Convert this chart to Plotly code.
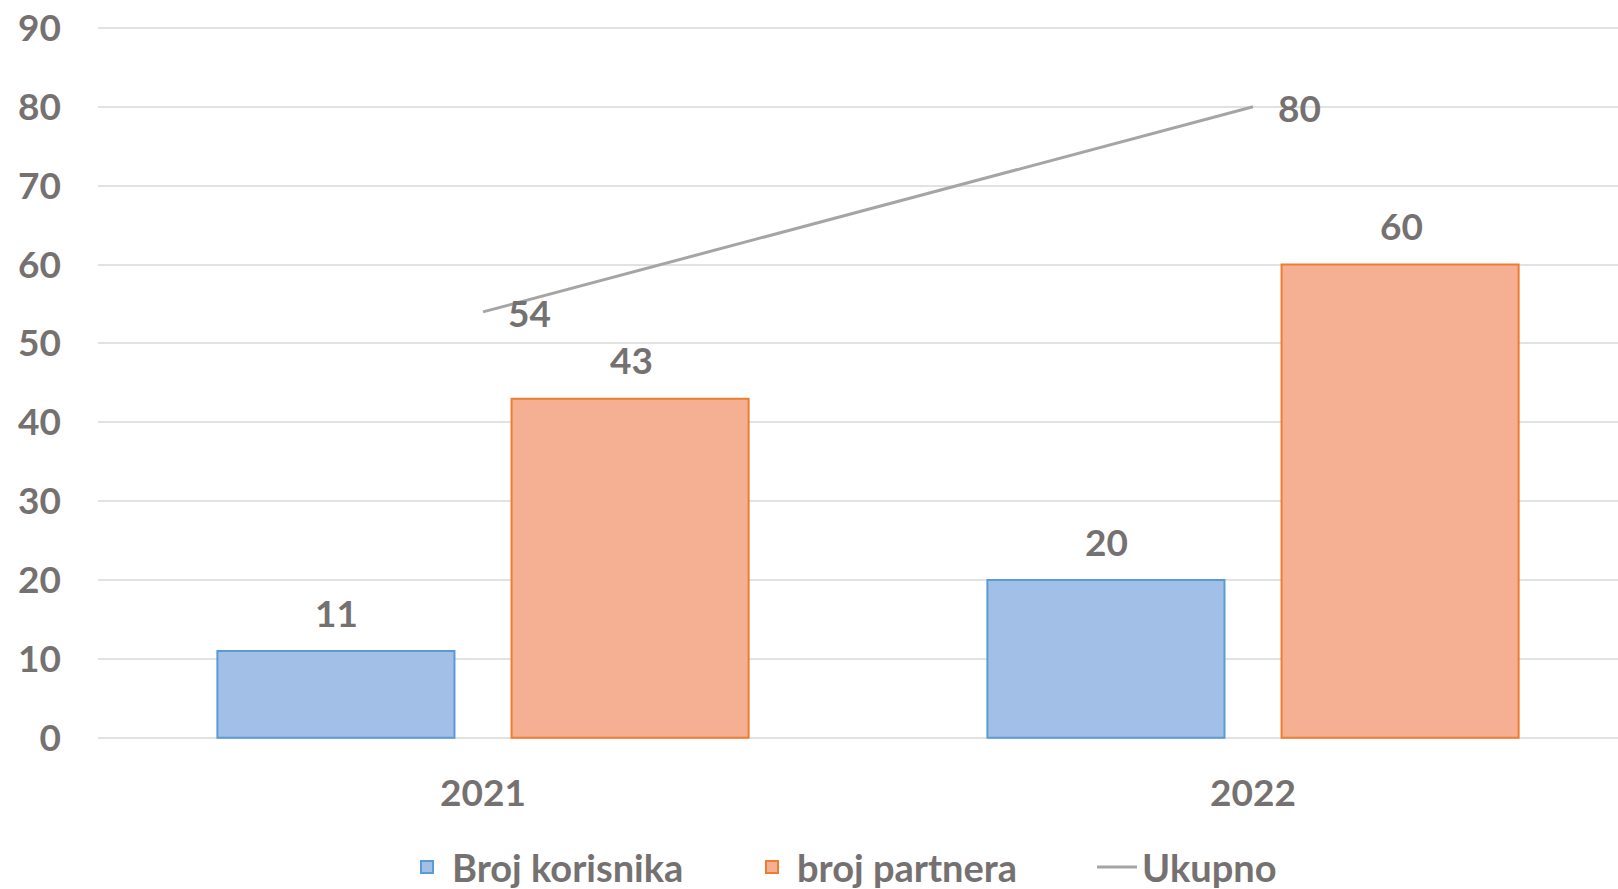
import plotly.graph_objects as go

years = ["2021", "2022"]
korisnici = [11, 20]
partneri = [43, 60]
ukupno = [54, 80]
y_ticks = [0, 10, 20, 30, 40, 50, 60, 70, 80, 90]

grey_text = "#767171"
font_name = "Lato, 'Open Sans', sans-serif"

fig = go.Figure()
fig.add_trace(go.Bar(
    x=years, y=korisnici, name="Broj korisnika",
    marker=dict(color="#a2c0e7", line=dict(color="#5b9bd5", width=2)),
))
fig.add_trace(go.Bar(
    x=years, y=partneri, name="broj partnera",
    marker=dict(color="#f5b093", line=dict(color="#ed7d31", width=2)),
))
fig.add_trace(go.Scatter(
    x=years, y=ukupno, name="Ukupno", mode="lines",
    line=dict(color="#a5a5a5", width=3),
))

# value labels (category index used for x, year strings look numeric)
for i, v in enumerate(korisnici):
    fig.add_annotation(x=i, y=v, text=str(v), showarrow=False,
                       xshift=-147, yshift=39, yanchor="middle")
for i, v in enumerate(partneri):
    fig.add_annotation(x=i, y=v, text=str(v), showarrow=False,
                       xshift=148, yshift=39, yanchor="middle")
for i, v in enumerate(ukupno):
    fig.add_annotation(x=i, y=v, text=str(v), showarrow=False,
                       xanchor="left", xshift=23, yshift=-1, yanchor="middle")

fig.update_annotations(font=dict(family=font_name, size=37, color=grey_text, weight="bold"))

fig.update_layout(
    width=1618, height=889,
    margin=dict(l=98, r=0, t=24, b=148, autoexpand=False),
    paper_bgcolor="white", plot_bgcolor="white",
    barmode="group", bargap=0.236, bargroupgap=0.194,
    font=dict(family=font_name, size=37, color=grey_text, weight="bold"),
    showlegend=True,
    legend=dict(orientation="h", x=0.2, xanchor="left", y=-0.176, yanchor="middle",
                entrywidth=290, itemwidth=40,
                font=dict(size=38, color=grey_text, weight="bold")),
    xaxis=dict(type="category", range=[-0.5, 1.474], showgrid=False, zeroline=False,
               showline=False, ticks="", ticklabelstandoff=27, automargin=False),
    yaxis=dict(range=[-0.4, 90.5], tickvals=y_ticks, showgrid=True, gridcolor="#e2e2e2",
               gridwidth=2, zeroline=False, showline=False, ticks="", ticklabelstandoff=36,
               automargin=False),
)

fig.write_html("out.html", config={"displayModeBar": False},
               post_script="document.body.style.margin = '0';")
